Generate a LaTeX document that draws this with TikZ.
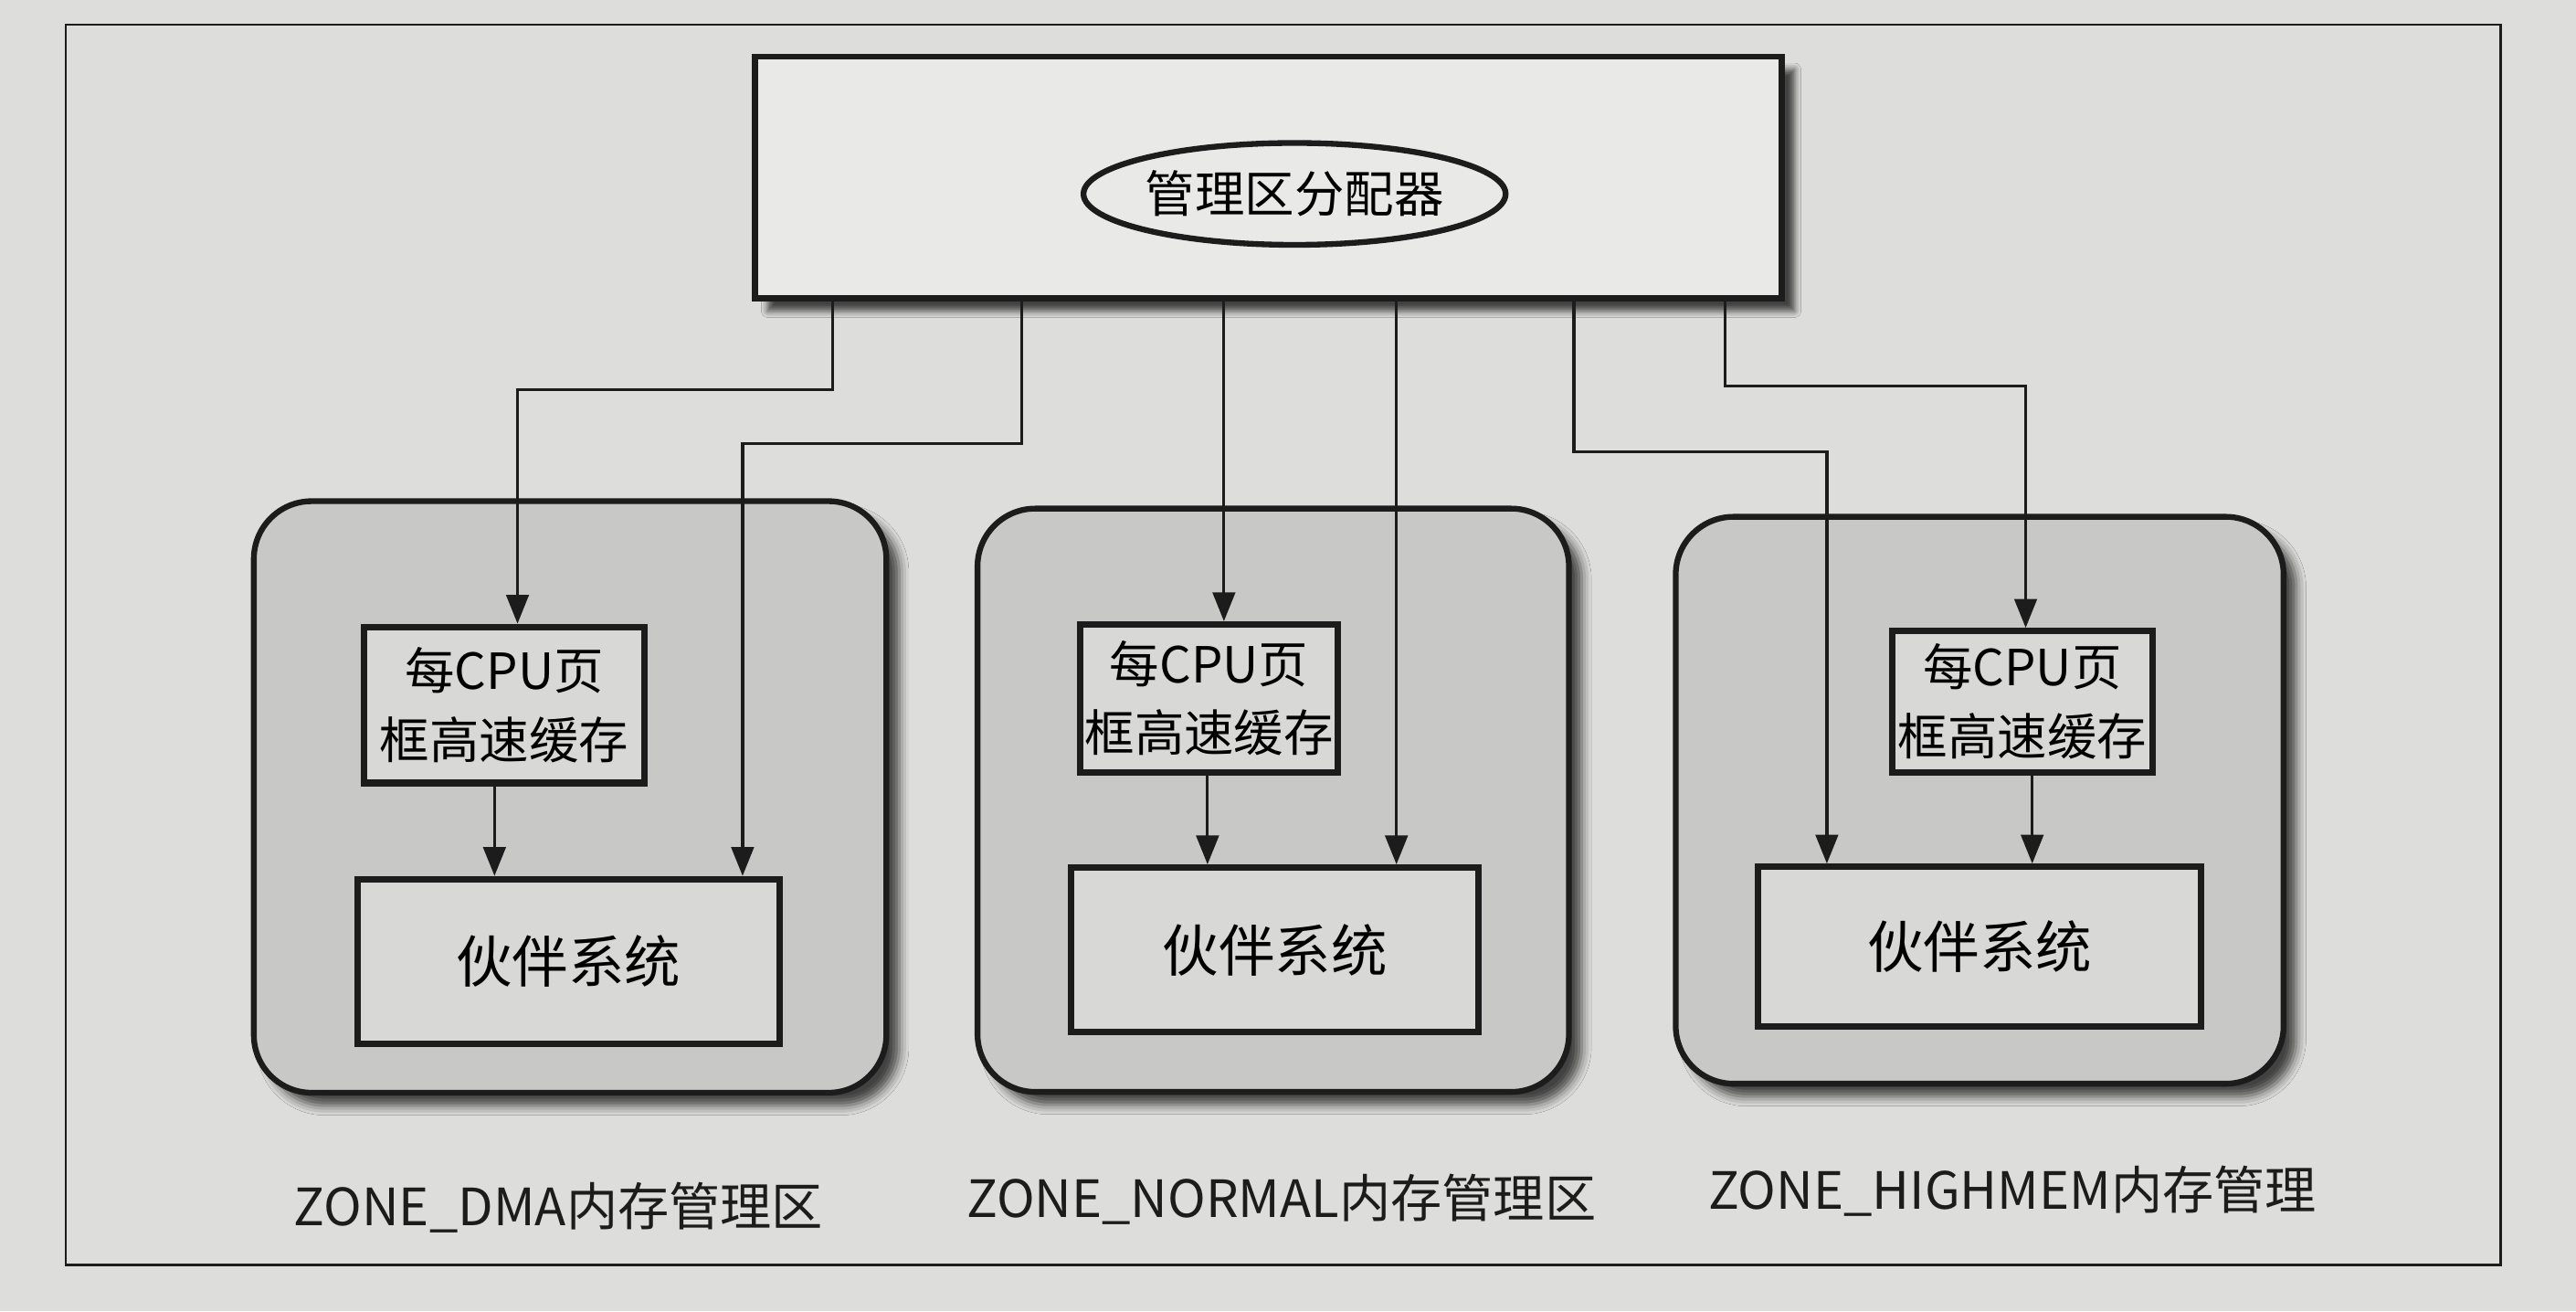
\documentclass[tikz,border=0pt]{standalone}
\usepackage{fontspec}
\setmainfont{Noto Sans CJK SC}
\usepackage{xcolor}
\usepackage{tikz}
\usetikzlibrary{positioning}
\usetikzlibrary{arrows.meta,shapes.geometric,shadows.blur}

\definecolor{pagebg}{RGB}{221,221,219}
\definecolor{boxbg}{RGB}{233,233,231}
\definecolor{zonebg}{RGB}{200,200,198}
\definecolor{cachebg}{RGB}{216,216,214}
\definecolor{ink}{RGB}{28,28,28}
\newcommand{\unitpx}{0.017985cm}

\tikzset{
  zone/.style={draw=ink, line width=1.8pt, fill=zonebg, rounded corners=18pt,
    blur shadow={shadow xshift=4pt, shadow yshift=-4pt, shadow blur radius=3pt, shadow opacity=70}},
  topbox/.style={draw=ink, line width=1.8pt, fill=boxbg,
    blur shadow={shadow xshift=4pt, shadow yshift=-4pt, shadow blur radius=2pt, shadow opacity=70}},
  cachebox/.style={draw=ink, line width=2pt, fill=cachebg, align=center, inner sep=0pt,
    font=\fontsize{15.5}{21.5}\selectfont},
  buddybox/.style={draw=ink, line width=2pt, fill=cachebg, inner sep=0pt,
    font=\fontsize{17.5}{21}\selectfont},
  zonelabel/.style={font=\fontsize{16}{20}\selectfont, text=ink},
  arr/.style={->, draw=ink, line width=0.9pt}
}

\begin{document}
\begin{tikzpicture}[x=\unitpx, y=-\unitpx, >={Triangle[length=9pt,width=7pt]}]
  \useasboundingbox (0,0) rectangle (1568,798);
  \fill[pagebg] (0,0) rectangle (1568,798);
  % outer frame
  \draw[ink, line width=0.8pt] (40,15) rectangle (1522,770);

  % allocator
  \node[topbox, minimum width=625*\unitpx, minimum height=147*\unitpx] (alloc) at (772,108) {};
  \node[ellipse, draw=ink, line width=1.8pt, minimum width=222*\unitpx, minimum height=62*\unitpx,
    inner sep=0pt, font=\fontsize{15.5}{19}\selectfont] (ell) at (788,118) {管理区分配器};

  % zones
  \node[zone, minimum width=385*\unitpx, minimum height=360*\unitpx] (zd) at (347,485) {};
  \node[zone, minimum width=360*\unitpx, minimum height=355*\unitpx] (zn) at (775,487) {};
  \node[zone, minimum width=370*\unitpx, minimum height=345*\unitpx] (zh) at (1205,487) {};

  % per-cpu caches
  \node[cachebox, minimum width=171*\unitpx, minimum height=95*\unitpx] (cd) at (307,429) {每CPU页\\框高速缓存};
  \node[cachebox, minimum width=157*\unitpx, minimum height=90*\unitpx] (cn) at (736,425) {每CPU页\\框高速缓存};
  \node[cachebox, minimum width=158*\unitpx, minimum height=86*\unitpx] (ch) at (1231,427) {每CPU页\\框高速缓存};

  % buddy systems
  \node[buddybox, minimum width=257*\unitpx, minimum height=100*\unitpx] (bd) at (346,585) {伙伴系统};
  \node[buddybox, minimum width=248*\unitpx, minimum height=100*\unitpx] (bn) at (776,578) {伙伴系统};
  \node[buddybox, minimum width=270*\unitpx, minimum height=97*\unitpx] (bh) at (1205,576) {伙伴系统};

  % zone names
  \node[zonelabel] (ld) at (340,735) {ZONE\_DMA内存管理区};
  \node[zonelabel] (ln) at (780,730) {ZONE\_NORMAL内存管理区};
  \node[zonelabel] (lh) at (1225,725) {ZONE\_HIGHMEM内存管理};

  % arrows from the allocator
  \draw[arr] (alloc.south -| 507,0) |- (315,237) -- (cd.north -| 315,0);
  \draw[arr] (alloc.south -| 622,0) |- (452,270) -- (bd.north -| 452,0);
  \draw[arr] (alloc.south -| 745,0) -- (cn.north -| 745,0);
  \draw[arr] (alloc.south -| 850,0) -- (bn.north -| 850,0);
  \draw[arr] (alloc.south -| 958,0) |- (1112,275) -- (bh.north -| 1112,0);
  \draw[arr] (alloc.south -| 1050,0) |- (1233,235) -- (ch.north -| 1233,0);
  % cache to buddy
  \draw[arr] (cd.south -| 301,0) -- (bd.north -| 301,0);
  \draw[arr] (cn.south -| 735,0) -- (bn.north -| 735,0);
  \draw[arr] (ch.south -| 1237,0) -- (bh.north -| 1237,0);
\end{tikzpicture}
\end{document}
